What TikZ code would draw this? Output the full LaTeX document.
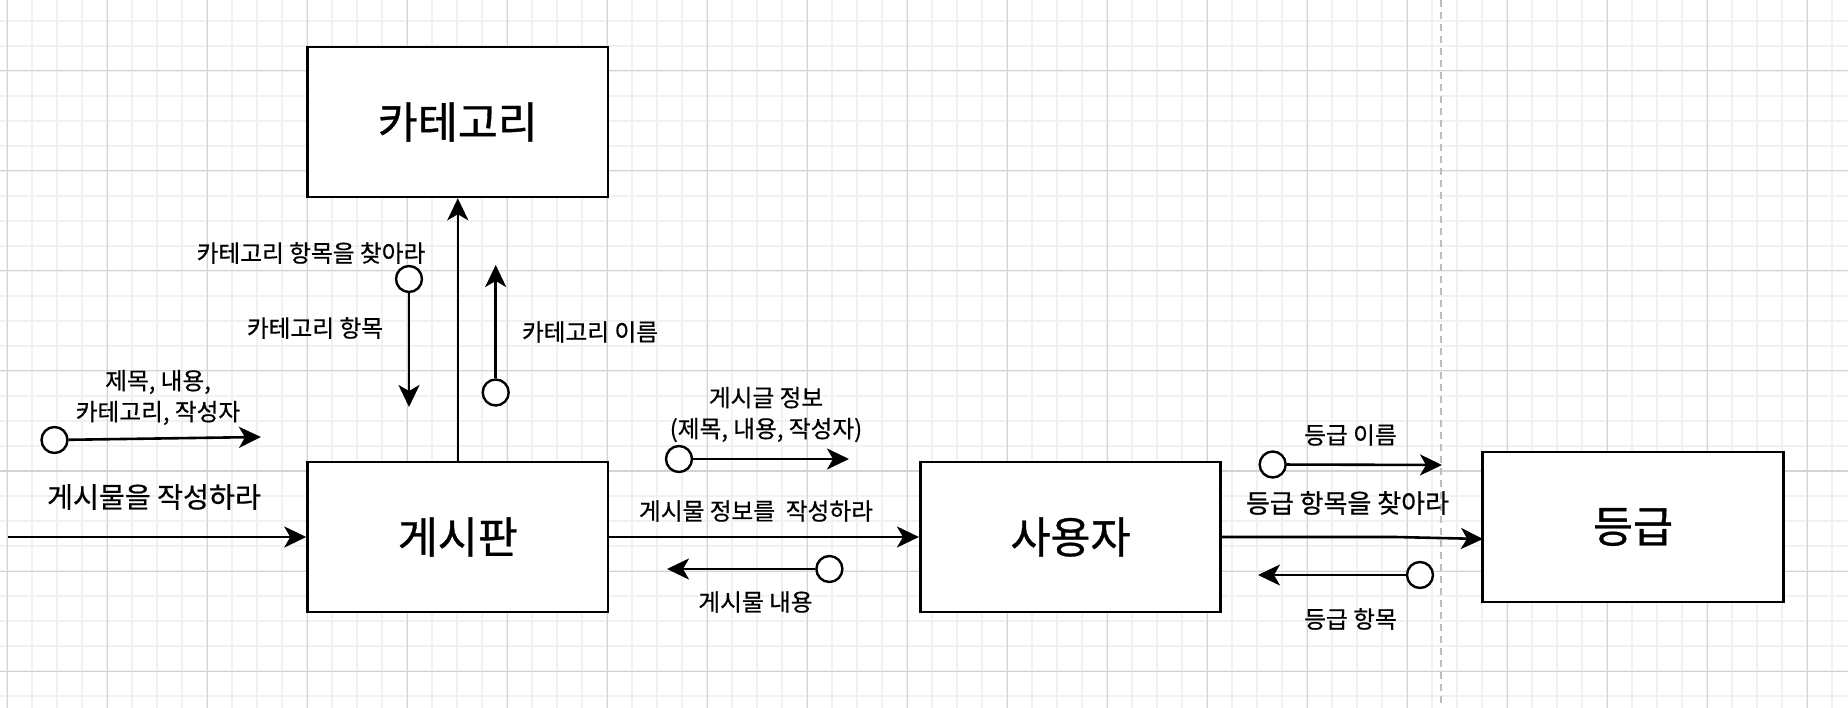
\documentclass[tikz,border=0pt]{standalone}
\usepackage{fontspec}
\newfontfamily\kr[FakeBold=0.6]{Noto Sans CJK KR}
\newfontfamily\krt[FakeBold=0.8]{Noto Sans CJK KR}
\usetikzlibrary{arrows.meta}
\definecolor{gridminor}{HTML}{F1F1F1}
\definecolor{gridmajor}{HTML}{D3D3D3}
\definecolor{dashgray}{HTML}{BDBDBD}
\begin{document}
\begin{tikzpicture}[x=1pt,y=-1pt,
  box/.style={draw=black, line width=2.6pt, fill=white, minimum width=300.5pt, minimum height=150pt, inner sep=0pt, font=\krt\fontsize{43.5}{50}\selectfont},
  dot/.style={circle, draw=black, line width=2.4pt, fill=white, minimum size=26pt, inner sep=0pt},
  flow/.style={line width=2.6pt, -{Stealth[length=22pt,width=21pt,inset=6pt]}},
  lbl/.style={font=\kr\fontsize{23.7}{31}\selectfont, align=center, inner sep=0pt},
  lblbig/.style={font=\kr\fontsize{28.2}{34}\selectfont, align=center, inner sep=0pt},
  lblmid/.style={font=\kr\fontsize{26}{31}\selectfont, align=center, inner sep=0pt},
  minorline/.style={gridminor, line width=1.2pt},
  majorline/.style={gridmajor, line width=1pt},
]
\useasboundingbox (0,0) rectangle (1848,708);
\fill[white] (0,0) rectangle (1848,708);
% grid
\foreach \gx in {7,32,...,1847} \draw[minorline] (\gx,0) -- (\gx,708);
\foreach \gy in {21,46,...,707} \draw[minorline] (0,\gy) -- (1848,\gy);
\foreach \gx in {7,107,...,1847} \draw[majorline] (\gx,0) -- (\gx,708);
\foreach \gy in {71,171,...,707} \draw[majorline] (0,\gy) -- (1848,\gy);
% dashed divider
\coordinate (dtop) at (1441,0);
\coordinate (dbot) at (1441,708);
\draw[dashgray, line width=2pt, dash pattern=on 7pt off 5pt] (dtop) -- (dbot);

% boxes
\node[box] (cat) at (457.8,122) {카테고리};
\node[box] (board) at (457.8,537) {게시판};
\node[box] (user) at (1070.5,537) {사용자};
\node[box] (grade) at (1633,527) {등급};

% main connectors
\coordinate (in0) at (8,537);
\draw[flow] (in0) -- (board.west);
\draw[flow] (board.north) -- (cat.south);
\draw[flow] (board.east) -- (user.west);
\coordinate (gbend) at (1395,537);
\coordinate (gin) at (1483,539);
\draw[flow] (user.east) -- (gbend) -- (gin);

% lollipop arrows
\node[dot] (c1) at (54.5,440) {};
\coordinate (t1) at (261,437);
\draw[flow] (c1) -- (t1);

\node[dot] (c2) at (409,279) {};
\coordinate (t2) at (409,407);
\draw[flow] (c2) -- (t2);

\node[dot] (c3) at (495.7,392.5) {};
\coordinate (t3) at (495.7,265);
\draw[flow] (c3) -- (t3);

\node[dot] (c4) at (679,459) {};
\coordinate (t4) at (849,459);
\draw[flow] (c4) -- (t4);

\node[dot] (c5) at (829.4,569) {};
\coordinate (t5) at (667,569);
\draw[flow] (c5) -- (t5);

\node[dot] (c6) at (1272.7,464.5) {};
\coordinate (t6) at (1442,465);
\draw[flow] (c6) -- (t6);

\node[dot] (c7) at (1420,575) {};
\coordinate (t7) at (1258,575);
\draw[flow] (c7) -- (t7);

% labels
\node[lblbig] (l1) at (154,497) {게시물을 작성하라};
\node[lbl] (l2) at (158,397.5) {제목, 내용,\\카테고리, 작성자};
\node[lbl] (l3) at (311,253) {카테고리 항목을 찾아라};
\node[lbl] (l4) at (315,328) {카테고리 항목};
\node[lbl] (l5) at (590,332) {카테고리 이름};
\node[lbl] (l6) at (766,414.5) {게시글 정보\\(제목, 내용, 작성자)};
\node[lbl] (l7) at (756,511) {게시물 정보를~~작성하라};
\node[lbl] (l8) at (755.5,602) {게시물 내용};
\node[lbl] (l9) at (1350.5,435) {등급 이름};
\node[lblmid] (l10) at (1347.5,503) {등급 항목을 찾아라};
\node[lbl] (l11) at (1350.5,619) {등급 항목};
\end{tikzpicture}
\end{document}
